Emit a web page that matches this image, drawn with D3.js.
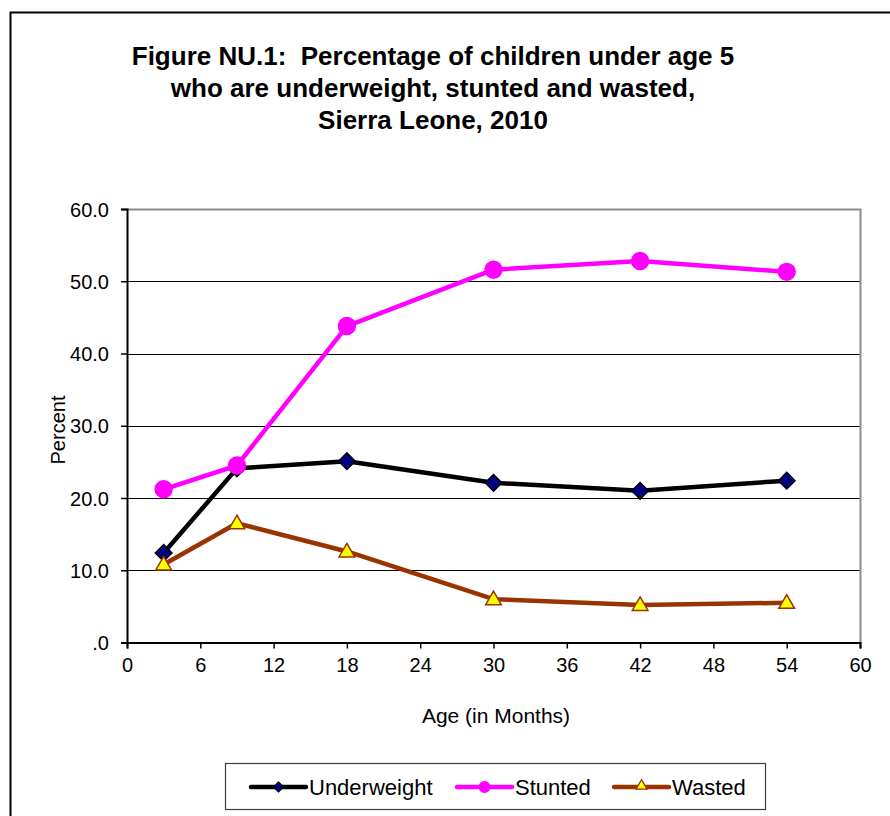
<!DOCTYPE html>
<html>
<head>
<meta charset="utf-8">
<script src="https://cdn.jsdelivr.net/npm/d3@7"></script>
<style>
  body { margin: 0; background: #fff; }
  text { font-family: "Liberation Sans", Arial, sans-serif; fill: #000; }
</style>
</head>
<body>
<script>
// data
var ages = [3, 9, 18, 30, 42, 54];
var underweight = [12.4, 24.1, 25.1, 22.1, 21.0, 22.4];
var stunted = [21.2, 24.5, 43.8, 51.6, 52.8, 51.3];
var wasted = [10.8, 16.5, 12.6, 6.0, 5.2, 5.5];
var xTicks = [0, 6, 12, 18, 24, 30, 36, 42, 48, 54, 60];
var yTicks = [0, 10, 20, 30, 40, 50, 60];
var titleLines = ["Figure NU.1:  Percentage of children under age 5",
                  "who are underweight, stunted and wasted,",
                  "Sierra Leone, 2010"];

var width = 890, height = 816;
var plotLeft = 127, plotRight = 860, plotTop = 209, plotBottom = 642.5;

var svg = d3.select("body").append("svg")
    .attr("width", width)
    .attr("height", height);

// outer chart frame
svg.append("path")
    .attr("d", "M10.5,816 V12.5 H890")
    .attr("fill", "none")
    .attr("stroke", "#000")
    .attr("stroke-width", 2);

// title
svg.append("text")
    .attr("x", 433)
    .attr("y", 65)
    .attr("text-anchor", "middle")
    .style("font-size", "26px")
    .style("font-weight", "bold")
    .style("white-space", "pre")
    .selectAll("tspan")
    .data(titleLines)
    .enter().append("tspan")
      .attr("x", 433)
      .attr("dy", function(d, i) { return i == 0 ? 0 : 32; })
      .text(function(d) { return d; });

var x = d3.scaleLinear().domain([0, 60]).range([plotLeft, plotRight]);
var y = d3.scaleLinear().domain([0, 60]).range([plotBottom, plotTop]);

// gridlines
svg.append("g").selectAll("line")
    .data(yTicks.filter(function(d) { return d > 0 && d < 60; }))
    .enter().append("line")
      .attr("x1", plotLeft).attr("x2", plotRight)
      .attr("y1", function(d) { return Math.round(y(d)) + 0.5; })
      .attr("y2", function(d) { return Math.round(y(d)) + 0.5; })
      .attr("stroke", "#000")
      .attr("stroke-width", 1);

// plot area border top/right (grey)
svg.append("path")
    .attr("d", "M" + plotLeft + "," + (plotTop + 0.5) + " H" + (plotRight + 0.5) + " V" + plotBottom)
    .attr("fill", "none")
    .attr("stroke", "#8c8c8c")
    .attr("stroke-width", 2);

// axes
var yAxis = d3.axisLeft(y)
    .tickValues(yTicks)
    .tickSize(6)
    .tickPadding(12)
    .tickFormat(function(d) { return d == 0 ? ".0" : d.toFixed(1); });
var xAxis = d3.axisBottom(x)
    .tickValues(xTicks)
    .tickSize(6)
    .tickPadding(9);

var gy = svg.append("g")
    .attr("transform", "translate(" + plotLeft + ",0)")
    .call(yAxis);
var gx = svg.append("g")
    .attr("transform", "translate(0," + plotBottom + ")")
    .call(xAxis);
[gx, gy].forEach(function(g) {
  g.select(".domain").attr("stroke", "#000").attr("stroke-width", 2);
  g.selectAll(".tick line").attr("stroke", "#000").attr("stroke-width", 1.5);
  g.selectAll(".tick text")
    .style("font-family", "'Liberation Sans', Arial, sans-serif")
    .style("font-size", "20px")
    .attr("fill", "#000");
});
gy.selectAll(".tick text").attr("dy", "0.36em");
gx.selectAll(".tick text").attr("dy", "0.72em");

// axis titles
svg.append("text")
    .attr("x", 496)
    .attr("y", 723)
    .attr("text-anchor", "middle")
    .style("font-size", "21px")
    .text("Age (in Months)");
svg.append("text")
    .attr("transform", "translate(65,430) rotate(-90)")
    .attr("text-anchor", "middle")
    .style("font-size", "20px")
    .text("Percent");

var series = [
  { name: "Underweight", values: underweight, color: "#000000", marker: "diamond", fill: "#000080", stroke: "#000000" },
  { name: "Stunted", values: stunted, color: "#ff00ff", marker: "circle", fill: "#ff00ff", stroke: "#ff00ff" },
  { name: "Wasted", values: wasted, color: "#993300", marker: "triangle", fill: "#ffff00", stroke: "#993300" }
];

function markerPath(type, s) {
  if (type == "diamond") return d3.symbol(d3.symbolDiamond2, s * 8)();
  if (type == "circle") return d3.symbol(d3.symbolCircle, s * 15)();
  return d3.symbol(d3.symbolTriangle2, s * 8)();
}

var line = d3.line()
    .x(function(d) { return x(d[0]); })
    .y(function(d) { return y(d[1]); });

series.forEach(function(s) {
  var pts = ages.map(function(a, i) { return [a, s.values[i]]; });
  var g = svg.append("g");
  g.append("path")
      .datum(pts)
      .attr("d", line)
      .attr("fill", "none")
      .attr("stroke", s.color)
      .attr("stroke-width", 4.5)
      .attr("stroke-linejoin", "round");
  g.selectAll(".mk")
      .data(pts)
      .enter().append("path")
        .attr("class", "mk")
        .attr("transform", function(d) {
          return "translate(" + x(d[0]) + "," + (y(d[1]) + (s.marker == "triangle" ? 1 : 0)) + ")";
        })
        .attr("d", markerPath(s.marker, s.marker == "circle" ? 15 : 22))
        .attr("fill", s.fill)
        .attr("stroke", s.stroke)
        .attr("stroke-width", 1.5);
});

// legend
var lg = svg.append("g");
lg.append("rect")
    .attr("x", 225.5).attr("y", 763.5)
    .attr("width", 540).attr("height", 46)
    .attr("fill", "#fff")
    .attr("stroke", "#404040")
    .attr("stroke-width", 1.2);
var legX = [251, 457, 614];
series.forEach(function(s, i) {
  var x0 = legX[i], ly = 787;
  lg.append("line")
      .attr("x1", x0).attr("x2", x0 + 55)
      .attr("y1", ly).attr("y2", ly)
      .attr("stroke", s.color)
      .attr("stroke-width", 4.5)
      .attr("stroke-linecap", "round");
  lg.append("path")
      .attr("transform", "translate(" + (x0 + 27.5) + "," + (ly + (s.marker == "triangle" ? -1 : 0)) + ")")
      .attr("d", markerPath(s.marker, s.marker == "diamond" ? 8 : s.marker == "circle" ? 6 : 11))
      .attr("fill", s.fill)
      .attr("stroke", s.stroke)
      .attr("stroke-width", 1.2);
  lg.append("text")
      .attr("x", x0 + 58)
      .attr("y", ly + 8)
      .style("font-size", "22px")
      .text(s.name);
});
</script>
</body>
</html>
